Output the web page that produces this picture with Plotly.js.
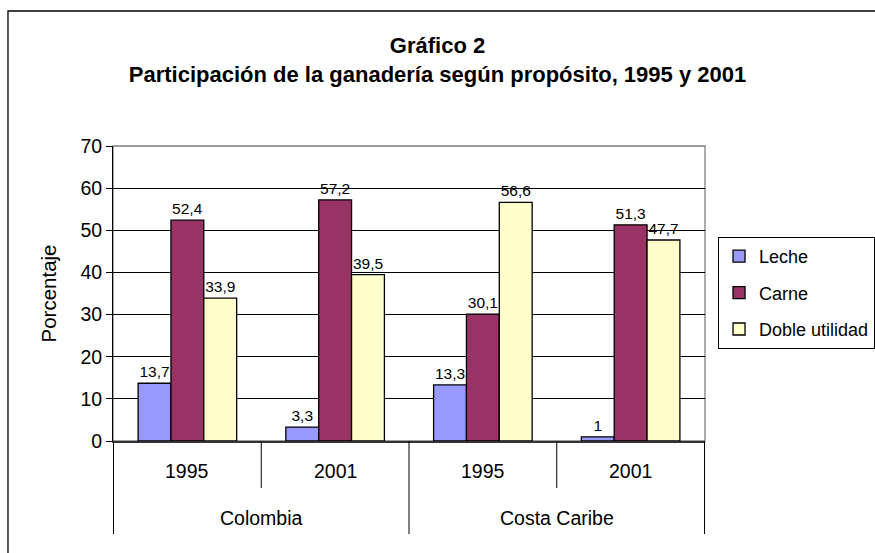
<!DOCTYPE html>
<html>
<head>
<meta charset="utf-8">
<script src="https://cdn.plot.ly/plotly-3.0.1.min.js"></script>
<style>html,body{margin:0;padding:0;background:#fff;}#chart{width:875px;height:553px;}</style>
</head>
<body>
<div id="chart"></div>
<script>
const groups = ['Colombia', 'Colombia', 'Costa Caribe', 'Costa Caribe'];
const years = ['1995', '2001', '1995', '2001'];
const seriesNames = ['Leche', 'Carne', 'Doble utilidad'];
const leche = [13.7, 3.3, 13.3, 1];
const carne = [52.4, 57.2, 30.1, 51.3];
const doble = [33.9, 39.5, 56.6, 47.7];
const yTicks = [0, 10, 20, 30, 40, 50, 60, 70];

const colors = ['#9999FF', '#993366', '#FFFFCC'];
const FONT = '"Liberation Sans", Arial, sans-serif';
const cats = groups.map((g, i) => g + ' ' + years[i]);
const fmt = v => String(v).replace('.', ',');

const traces = [leche, carne, doble].map((vals, k) => ({
  type: 'bar',
  name: seriesNames[k],
  legendgroup: 'g' + k,
  x: cats,
  y: vals,
  text: vals.map(fmt),
  textposition: 'outside',
  cliponaxis: false,
  textfont: {family: FONT, size: 15.5, color: '#000'},
  marker: {color: colors[k], line: {color: '#000', width: 1.3}},
  hoverinfo: 'skip'
}));

const annotations = [];
years.forEach((y, i) => annotations.push({
  x: i, xref: 'x', y: 0, yref: 'paper', yshift: -30, yanchor: 'middle',
  text: y, showarrow: false, font: {family: FONT, size: 19.5, color: '#000'}
}));
const uniq = [...new Set(groups)];
uniq.forEach(g => {
  const idx = groups.map((gg, i) => gg === g ? i : null).filter(v => v !== null);
  const mid = (idx[0] + idx[idx.length - 1]) / 2;
  annotations.push({
    x: mid, xref: 'x', y: 0, yref: 'paper', yshift: -77, yanchor: 'middle',
    text: g, showarrow: false, font: {family: FONT, size: 19.5, color: '#000'}
  });
});

const shapes = [];
shapes.push({type: 'rect', xref: 'paper', yref: 'paper', x0: 0, x1: 1, y0: 0, y1: 1,
  line: {color: '#808080', width: 1.3}, layer: 'below'});
shapes.push({type: 'rect', xref: 'paper', yref: 'paper', x0: -0.1774, x1: 1.5, y0: -0.6, y1: 1.4576,
  line: {color: '#000', width: 1.3}, layer: 'below'});
for (let b = -1; b < cats.length; b++) {
  const edge = (b === -1 || b === cats.length - 1 || groups[b] !== groups[b + 1]);
  shapes.push({type: 'line', xref: 'x', yref: 'paper', x0: b + 0.5, x1: b + 0.5,
    ysizemode: 'pixel', yanchor: 0, y0: 0, y1: edge ? -93 : -47,
    line: {color: '#000', width: 1}});
}

const layout = {
  width: 875, height: 553,
  margin: {l: 113, r: 170, t: 146, b: 112, autoexpand: false},
  paper_bgcolor: '#fff', plot_bgcolor: '#fff',
  font: {family: FONT, color: '#000'},
  title: {
    text: '<b>Gráfico 2<br>Participación de la ganadería según propósito, 1995 y 2001</b>',
    font: {family: FONT, size: 22, color: '#000'},
    x: 0.5, xref: 'container', xanchor: 'center',
    y: 1 - 53 / 553, yref: 'container', yanchor: 'middle'
  },
  barmode: 'group', bargap: 0.333, bargroupgap: 0,
  showlegend: true,
  legend: {
    x: 1.022, xanchor: 'left', y: 0.6915, yanchor: 'top',
    bordercolor: '#000', borderwidth: 1, bgcolor: '#fff',
    font: {family: FONT, size: 18, color: '#000'},
    traceorder: 'grouped', tracegroupgap: 10
  },
  xaxis: {
    type: 'category', showticklabels: false, ticks: '', showgrid: false,
    showline: true, linecolor: '#333', linewidth: 1.5, zeroline: false, fixedrange: true
  },
  yaxis: {
    range: [0, 70], tickvals: yTicks, ticktext: yTicks.map(String),
    ticks: 'outside', ticklen: 6, tickcolor: '#000', tickwidth: 1,
    showline: true, linecolor: '#000', linewidth: 1,
    showgrid: true, gridcolor: '#000', gridwidth: 1, zeroline: false,
    tickfont: {family: FONT, size: 19.5, color: '#000'},
    title: {text: 'Porcentaje', font: {family: FONT, size: 20.5, color: '#000'}, standoff: 18},
    fixedrange: true
  },
  annotations: annotations,
  shapes: shapes
};

Plotly.newPlot('chart', traces, layout, {displayModeBar: false, staticPlot: true});
</script>
</body>
</html>
